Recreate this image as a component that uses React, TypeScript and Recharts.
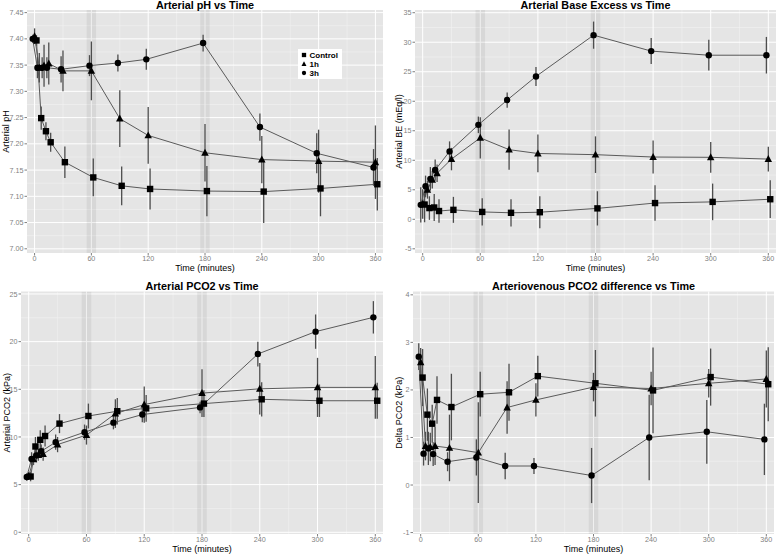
import { LineChart, Line, XAxis, YAxis, CartesianGrid, ErrorBar, ReferenceArea, Legend } from 'recharts'

const FONT = '"Liberation Sans", Arial, Helvetica, sans-serif'

const TIMES = [0, 5, 10, 15, 30, 60, 90, 120, 180, 240, 300, 360]
const X_TICKS = [0, 60, 120, 180, 240, 300, 360]
const X_MINOR = [30, 90, 150, 210, 270, 330]
const X_DOMAIN = [-8, 368]
const BANDS = [[55, 65], [175, 185]]
const GROUPS = ['Control', '1h', '3h']
const DODGE = [2, 0, -2]
type Shape = 'square' | 'triangle' | 'circle'
const SHAPES: Shape[] = ['square', 'triangle', 'circle']

// Arterial pH
const PH_CONTROL = [7.397, 7.249, 7.224, 7.203, 7.165, 7.136, 7.120, 7.114, 7.110, 7.109, 7.115, 7.123]
const PH_CONTROL_SD = [0.01, 0.022, 0.017, 0.018, 0.03, 0.036, 0.037, 0.039, 0.048, 0.06, 0.053, 0.05]
const PH_1H = [7.405, 7.345, 7.349, 7.353, 7.339, 7.339, 7.248, 7.216, 7.183, 7.170, 7.167, 7.165]
const PH_1H_SD = [0.015, 0.028, 0.04, 0.04, 0.039, 0.056, 0.054, 0.054, 0.055, 0.045, 0.06, 0.07]
const PH_3H = [7.400, 7.345, 7.345, 7.345, 7.342, 7.349, 7.354, 7.361, 7.392, 7.232, 7.182, 7.155]
const PH_3H_SD = [0.008, 0.02, 0.02, 0.02, 0.025, 0.02, 0.016, 0.02, 0.016, 0.026, 0.038, 0.035]
const PH_TICKS = [7.0, 7.05, 7.1, 7.15, 7.2, 7.25, 7.3, 7.35, 7.4, 7.45]
const PH_MINOR = [7.025, 7.075, 7.125, 7.175, 7.225, 7.275, 7.325, 7.375, 7.425]

// Arterial base excess
const BE_CONTROL = [2.5, 1.9, 2.0, 1.4, 1.6, 1.25, 1.1, 1.2, 1.85, 2.75, 2.95, 3.4]
const BE_CONTROL_SD = [3.0, 2.0, 2.3, 2.0, 2.2, 2.3, 2.3, 2.7, 2.9, 3.0, 3.1, 3.2]
const BE_1H = [2.6, 5.0, 6.7, 7.8, 10.2, 13.8, 11.8, 11.15, 10.95, 10.55, 10.5, 10.2]
const BE_1H_SD = [2.5, 1.5, 1.5, 1.5, 1.9, 3.5, 3.4, 3.2, 3.1, 2.8, 2.6, 2.1]
const BE_3H = [2.45, 5.6, 6.85, 8.35, 11.5, 16.0, 20.2, 24.2, 31.2, 28.5, 27.8, 27.8]
const BE_3H_SD = [3.0, 1.8, 2.0, 1.8, 1.7, 1.4, 1.3, 1.6, 2.3, 2.2, 2.6, 3.1]
const BE_TICKS = [-5, 0, 5, 10, 15, 20, 25, 30, 35]
const BE_MINOR = [-2.5, 2.5, 7.5, 12.5, 17.5, 22.5, 27.5, 32.5]

// Arterial PCO2
const PCO2_CONTROL = [5.85, 9.0, 9.7, 10.1, 11.4, 12.2, 12.7, 13.0, 13.5, 13.95, 13.8, 13.8]
const PCO2_CONTROL_SD = [0.5, 1.0, 1.0, 1.1, 1.0, 1.3, 1.4, 1.4, 1.4, 1.8, 1.7, 1.9]
const PCO2_1H = [5.9, 7.65, 8.1, 8.2, 9.2, 10.2, 12.45, 13.4, 14.6, 15.05, 15.2, 15.2]
const PCO2_1H_SD = [0.4, 0.6, 0.6, 0.7, 0.8, 1.0, 1.5, 1.9, 2.5, 2.7, 3.1, 3.3]
const PCO2_3H = [5.8, 7.7, 8.05, 8.5, 9.45, 10.5, 11.5, 12.35, 13.1, 18.7, 21.05, 22.55]
const PCO2_3H_SD = [0.4, 0.7, 0.7, 0.7, 0.8, 0.8, 0.7, 0.8, 0.6, 1.3, 1.8, 1.7]
const PCO2_TICKS = [0, 5, 10, 15, 20, 25]
const PCO2_MINOR = [2.5, 7.5, 12.5, 17.5, 22.5]

// Arteriovenous PCO2 difference
const DELTA_CONTROL = [2.26, 1.48, 1.29, 1.79, 1.64, 1.91, 1.95, 2.29, 2.14, 1.99, 2.27, 2.12]
const DELTA_CONTROL_SD = [0.6, 0.55, 0.4, 0.5, 0.7, 0.47, 0.6, 0.43, 0.7, 0.9, 0.6, 0.78]
const DELTA_1H = [2.58, 0.82, 0.80, 0.82, 0.78, 0.68, 1.63, 1.79, 2.06, 2.03, 2.14, 2.23]
const DELTA_1H_SD = [0.3, 0.3, 0.3, 0.4, 0.7, 1.06, 0.55, 0.35, 0.3, 0.35, 0.3, 0.6]
const DELTA_3H = [2.70, 0.66, 0.77, 0.65, 0.49, 0.58, 0.40, 0.40, 0.20, 1.00, 1.12, 0.96]
const DELTA_3H_SD = [0.28, 0.25, 0.35, 0.25, 0.2, 0.38, 0.28, 0.17, 0.58, 0.9, 0.67, 0.75]
const DELTA_TICKS = [-1, 0, 1, 2, 3, 4]
const DELTA_MINOR = [-0.5, 0.5, 1.5, 2.5, 3.5]

function marker(shape: Shape, cx: number, cy: number, s: number, key?: string | number) {
  if (shape === 'square') {
    return <rect key={key} x={cx - s / 2} y={cy - s / 2} width={s} height={s} fill="#000" />
  }
  if (shape === 'triangle') {
    const w = s * 1.15
    const h = s * 1.0
    return (
      <polygon
        key={key}
        points={`${cx},${cy - h * 0.62} ${cx + w / 2},${cy + h * 0.45} ${cx - w / 2},${cy + h * 0.45}`}
        fill="#000"
      />
    )
  }
  return <circle key={key} cx={cx} cy={cy} r={s / 2} fill="#000" />
}

function rows(values: number[], sd: number[], dodge: number) {
  return TIMES.map((t, i) => ({ time: t + dodge, value: values[i], err: sd[i] }))
}

function LegendBox() {
  const ys = [6, 15, 24]
  return (
    <svg width={44} height={30} style={{ display: 'block', background: '#fff' }}>
      {GROUPS.map((g, i) => (
        <g key={g}>
          {marker(SHAPES[i], 6, ys[i], 4.3)}
          <text x={11.5} y={ys[i] + 2.9} fontSize={8} fontWeight="bold" fontFamily={FONT} fill="#000">
            {g}
          </text>
        </g>
      ))}
    </svg>
  )
}

interface PanelProps {
  title: string
  yLabel: string
  yDomain: number[]
  yTicks: number[]
  yMinor: number[]
  yFormat: (v: number) => string
  series: [number[], number[]][]
  left: number
  top: number
  width: number
  height: number
  axisWidth: number
  right: number
  plotTop: number
  axisHeight: number
  xLabelOffset: number
  yLabelOffset: number
  legend?: boolean
}

function Panel(p: PanelProps) {
  const plotWidth = p.width - p.axisWidth - p.right
  return (
    <div style={{ position: 'absolute', left: p.left, top: p.top, width: p.width, height: p.height }}>
      <LineChart width={p.width} height={p.height} margin={{ top: p.plotTop, right: p.right, bottom: 0, left: 0 }}>
        <CartesianGrid fill="#E5E5E5" stroke="#F2F2F2" strokeWidth={0.6}
          horizontalValues={p.yMinor} verticalValues={X_MINOR} />
        <CartesianGrid stroke="#FFFFFF" strokeWidth={1}
          horizontalValues={p.yTicks} verticalValues={X_TICKS} />
        {BANDS.map(([a, b]) => (
          <ReferenceArea key={a} x1={a} x2={b} fill="#000" fillOpacity={0.06} stroke="none" ifOverflow="hidden" />
        ))}
        <XAxis type="number" dataKey="time" domain={X_DOMAIN} ticks={X_TICKS} allowDataOverflow interval={0}
          height={p.axisHeight} axisLine={false} tickLine={{ stroke: '#7F7F7F' }} tickSize={2.5} tickMargin={0.5}
          tick={{ fill: '#7F7F7F', fontSize: 7.2, fontFamily: FONT }}
          label={{ value: 'Time (minutes)', position: 'insideBottom', offset: p.xLabelOffset,
            fill: '#000', fontSize: 9, fontFamily: FONT }} />
        <YAxis type="number" domain={p.yDomain} ticks={p.yTicks} allowDataOverflow interval={0}
          width={p.axisWidth} axisLine={false} tickLine={{ stroke: '#7F7F7F' }} tickSize={2.5} tickMargin={1}
          tick={{ fill: '#7F7F7F', fontSize: 7.2, fontFamily: FONT }} tickFormatter={p.yFormat}
          label={{ value: p.yLabel, angle: -90, position: 'insideLeft', offset: p.yLabelOffset,
            fill: '#000', fontSize: 9, fontFamily: FONT, style: { textAnchor: 'middle' } }} />
        {p.series.map(([vals, sd], i) => (
          <Line key={GROUPS[i]} name={GROUPS[i]} data={rows(vals, sd, DODGE[i])} dataKey="value"
            stroke="#5A5A5A" strokeWidth={1} isAnimationActive={false} activeDot={false}
            dot={(d: any) => marker(SHAPES[i], d.cx, d.cy, SHAPES[i] === 'triangle' ? 6.5 : 6.4, d.index)}>
            <ErrorBar dataKey="err" width={0} stroke="#4D4D4D" strokeWidth={1.3} direction="y" isAnimationActive={false} />
          </Line>
        ))}
        {p.legend && (
          <Legend layout="vertical" align="center" verticalAlign="middle"
            wrapperStyle={{ left: 298, top: 49, width: 44, height: 30 }}
            content={() => <LegendBox />} />
        )}
      </LineChart>
      <div style={{
        position: 'absolute', left: p.axisWidth, width: plotWidth, top: p.plotTop - 10.3,
        textAlign: 'center', fontFamily: FONT, fontWeight: 'bold', fontSize: 10.8, lineHeight: '11px',
        whiteSpace: 'nowrap',
      }}>
        {p.title}
      </div>
    </div>
  )
}

const fmt2 = (v: number) => v.toFixed(2)
const fmt0 = (v: number) => String(v)

export default function App() {
  return (
    <div style={{ position: 'absolute', left: 0, top: 0, width: 778, height: 555, background: '#fff', overflow: 'hidden' }}>
      <Panel title="Arterial pH vs Time" yLabel="Arterial pH" yDomain={[6.992, 7.455]} yTicks={PH_TICKS}
        yMinor={PH_MINOR} yFormat={fmt2}
        series={[[PH_CONTROL, PH_CONTROL_SD], [PH_1H, PH_1H_SD], [PH_3H, PH_3H_SD]]}
        left={0} top={0} width={389} height={277} axisWidth={27} right={6} plotTop={10} axisHeight={24}
        xLabelOffset={5.8} yLabelOffset={5.5} legend />
      <Panel title="Arterial Base Excess vs Time" yLabel="Arterial BE (mEq/l)" yDomain={[-5.71, 35.46]}
        yTicks={BE_TICKS} yMinor={BE_MINOR} yFormat={fmt0}
        series={[[BE_CONTROL, BE_CONTROL_SD], [BE_1H, BE_1H_SD], [BE_3H, BE_3H_SD]]}
        left={389} top={0} width={389} height={277} axisWidth={26} right={2} plotTop={10} axisHeight={24}
        xLabelOffset={5.8} yLabelOffset={9.5} />
      <Panel title="Arterial PCO2 vs Time" yLabel="Arterial PCO2 (kPa)" yDomain={[-0.18, 25.26]}
        yTicks={PCO2_TICKS} yMinor={PCO2_MINOR} yFormat={fmt0}
        series={[[PCO2_CONTROL, PCO2_CONTROL_SD], [PCO2_1H, PCO2_1H_SD], [PCO2_3H, PCO2_3H_SD]]}
        left={0} top={281} width={389} height={274} axisWidth={21} right={6} plotTop={10.5} axisHeight={21}
        xLabelOffset={2.6} yLabelOffset={6.5} />
      <Panel title="Arteriovenous PCO2 difference vs Time" yLabel="Delta PCO2 (kPa)" yDomain={[-1.03, 4.07]}
        yTicks={DELTA_TICKS} yMinor={DELTA_MINOR} yFormat={fmt0}
        series={[[DELTA_CONTROL, DELTA_CONTROL_SD], [DELTA_1H, DELTA_1H_SD], [DELTA_3H, DELTA_3H_SD]]}
        left={389} top={281} width={389} height={274} axisWidth={24} right={4} plotTop={10.5} axisHeight={21}
        xLabelOffset={2.6} yLabelOffset={9.5} />
    </div>
  )
}
